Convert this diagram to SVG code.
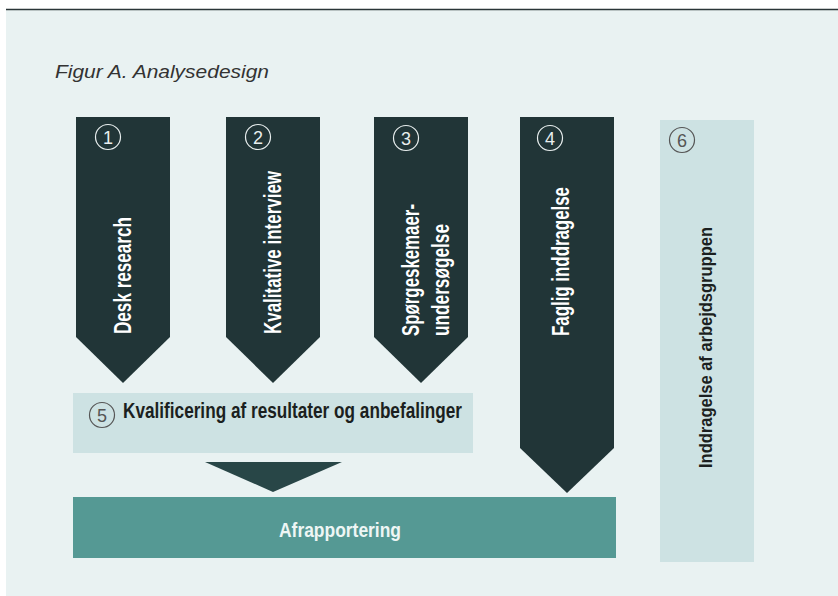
<svg xmlns="http://www.w3.org/2000/svg" width="838" height="596" viewBox="0 0 838 596">
<style>
.dark{fill:#213537}
.light{fill:#cde2e3}
.num{fill:none;stroke-width:1.2}
.numw{stroke:#e8eeee}
.numd{stroke:#555}
.dig{font-family:"Liberation Sans",Arial,sans-serif;font-size:18px;text-anchor:middle}
.vt{font-family:"Liberation Sans Narrow","Liberation Sans",Arial,sans-serif;font-weight:bold;font-size:24px;fill:#ffffff}
.dt{font-family:"Liberation Sans Narrow","Liberation Sans",Arial,sans-serif;font-weight:bold;fill:#1b1f20}
</style>
<rect x="0" y="0" width="838" height="596" fill="#ffffff"/>
<rect x="6" y="10" width="832" height="586" fill="#e9f2f2"/>
<line x1="6" y1="9.5" x2="838" y2="9.5" stroke="#2a3537" stroke-width="1.6"/>
<text x="55" y="78" font-family="Liberation Sans,Arial,sans-serif" font-style="italic" font-size="18" fill="#333" textLength="214" lengthAdjust="spacingAndGlyphs">Figur A. Analysedesign</text>

<g id="node1">
<polygon class="dark" points="76,117 170,117 170,337 123,383 76,337"/>
<circle class="num numw" cx="108" cy="137" r="12.5"/>
<text class="dig" x="108" y="143.5" fill="#e8eeee">1</text>
<text class="vt" transform="translate(131,334) rotate(-90)" textLength="117" lengthAdjust="spacingAndGlyphs">Desk research</text>
</g>
<g id="node2">
<polygon class="dark" points="226,117 320,117 320,337 273,383 226,337"/>
<circle class="num numw" cx="258" cy="137" r="12.5"/>
<text class="dig" x="258" y="143.5" fill="#e8eeee">2</text>
<text class="vt" transform="translate(281,334) rotate(-90)" textLength="163" lengthAdjust="spacingAndGlyphs">Kvalitative interview</text>
</g>
<g id="node3">
<polygon class="dark" points="374,117 468,117 468,337 421,383 374,337"/>
<circle class="num numw" cx="406" cy="138" r="12.5"/>
<text class="dig" x="406" y="144.5" fill="#e8eeee">3</text>
<text class="vt" transform="translate(419,336) rotate(-90)" textLength="132" lengthAdjust="spacingAndGlyphs">Spørgeskemaer-</text>
<text class="vt" transform="translate(449,336) rotate(-90)" textLength="112" lengthAdjust="spacingAndGlyphs">undersøgelse</text>
</g>
<g id="node4">
<polygon class="dark" points="520,117 614,117 614,448 567,493 520,448"/>
<circle class="num numw" cx="550" cy="138" r="12.5"/>
<text class="dig" x="550" y="144.5" fill="#e8eeee">4</text>
<text class="vt" transform="translate(569,336) rotate(-90)" textLength="149" lengthAdjust="spacingAndGlyphs">Faglig inddragelse</text>
</g>
<g id="node6">
<rect class="light" x="660" y="120" width="94" height="442"/>
<circle class="num numd" cx="682" cy="140" r="12.5"/>
<text class="dig" x="682" y="146.5" fill="#555">6</text>
<text class="dt" font-size="19" transform="translate(712,468) rotate(-90)" textLength="241" lengthAdjust="spacingAndGlyphs">Inddragelse af arbejdsgruppen</text>
</g>
<g id="node5">
<rect class="light" x="73" y="393" width="400" height="60"/>
<circle class="num numd" cx="102" cy="415" r="12.5"/>
<text class="dig" x="102" y="421.5" fill="#555">5</text>
<text class="dt" font-size="22.5" x="123" y="418" textLength="339" lengthAdjust="spacingAndGlyphs">Kvalificering af resultater og anbefalinger</text>
</g>
<g id="connectors">
<polygon fill="#284647" points="205,462 342,462 273,492"/>
</g>
<g id="node7">
<rect x="73" y="497" width="543" height="61" fill="#559994"/>
<text font-family="Liberation Sans Narrow,Liberation Sans,Arial,sans-serif" font-weight="bold" font-size="20.5" fill="#eef6f5" x="340" y="537" text-anchor="middle" textLength="122" lengthAdjust="spacingAndGlyphs">Afrapportering</text>
</g>
</svg>
